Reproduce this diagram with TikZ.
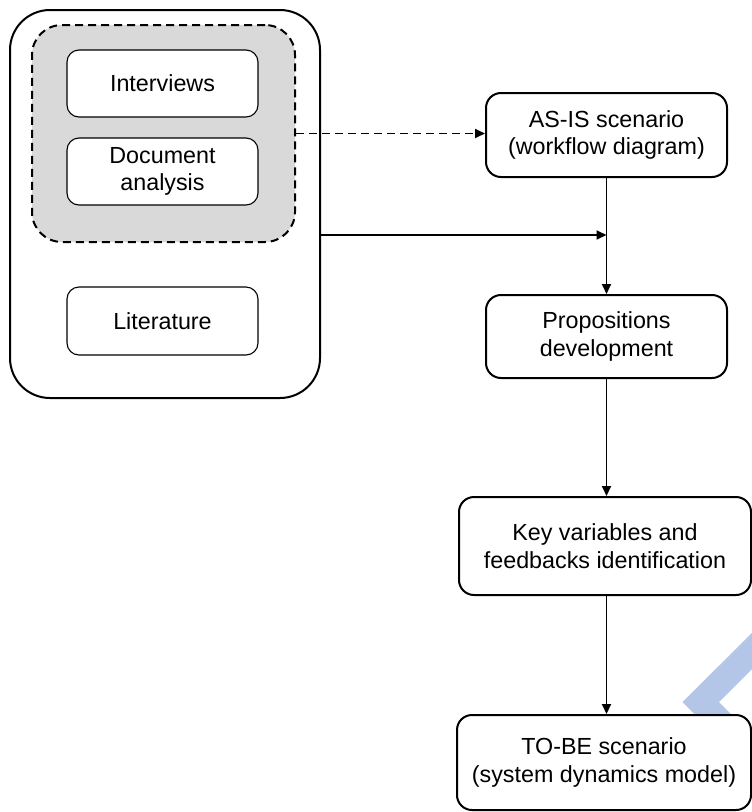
\documentclass[tikz,border=0pt]{standalone}
\usepackage{fontspec}
\setmainfont{Liberation Sans}
\usetikzlibrary{arrows.meta}
\definecolor{boxgray}{HTML}{D9D9D9}
\definecolor{wmblue}{HTML}{B4C6E7}
\begin{document}
\begin{tikzpicture}[x=1pt,y=-1pt,
  every node/.style={font=\fontsize{23.3}{27.5}\selectfont, align=center, inner sep=0pt},
  outerbox/.style={draw, line width=2pt, rounded corners=40pt, minimum width=310pt, minimum height=388pt},
  graybox/.style={draw, dashed, dash pattern=on 8pt off 5pt, line width=2pt, fill=boxgray, rounded corners=30pt, minimum width=263pt, minimum height=217pt},
  srcbox/.style={draw, fill=white, line width=1.1pt, rounded corners=12pt, minimum width=191pt, minimum height=67pt},
  stepbox/.style={draw, fill=white, line width=2pt, rounded corners=15pt},
  arr/.style={line width=1.8pt, -{Triangle[length=10pt,width=9pt]}}
]
\useasboundingbox (0,0) rectangle (752,812);

% watermark chevron
\fill[wmblue] (760,625) -- (682.5,702) -- (712,731.5) -- (748,731.5) -- (719,702) -- (760,661) -- cycle;

\node[outerbox] (outer) at (165,204) {};
\node[graybox] (gray) at (163.5,133.5) {};
\node[srcbox] (intv) at (162.5,83.5) {Interviews};
\node[srcbox] (doc) at (162.5,171.5) {Document\\analysis};
\node[srcbox, minimum height=68pt] (lit) at (162.5,321) {Literature};

\node[stepbox, minimum width=241pt, minimum height=84pt] (asis) at (606.5,135) {AS-IS scenario\\(workflow diagram)};
\node[stepbox, minimum width=241pt, minimum height=83pt] (prop) at (606.5,336.5) {Propositions\\development};
\node[stepbox, minimum width=292pt, minimum height=98pt] (key) at (605,546) {Key variables and\\feedbacks identification};
\node[stepbox, minimum width=294pt, minimum height=95pt] (tobe) at (604,762.5) {TO-BE scenario\\(system dynamics model)};

\coordinate (j) at (606.5,235);

\draw[arr, dashed, dash pattern=on 8pt off 5pt] (gray.east) -- (gray.east -| asis.west);
\draw[arr] (j -| outer.east) -- (j);
\draw[arr] (asis.south) -- (prop.north);
\draw[arr] (prop.south) -- (prop.south |- key.north);
\draw[arr] (prop.south |- key.south) -- (prop.south |- tobe.north);
\end{tikzpicture}
\end{document}
